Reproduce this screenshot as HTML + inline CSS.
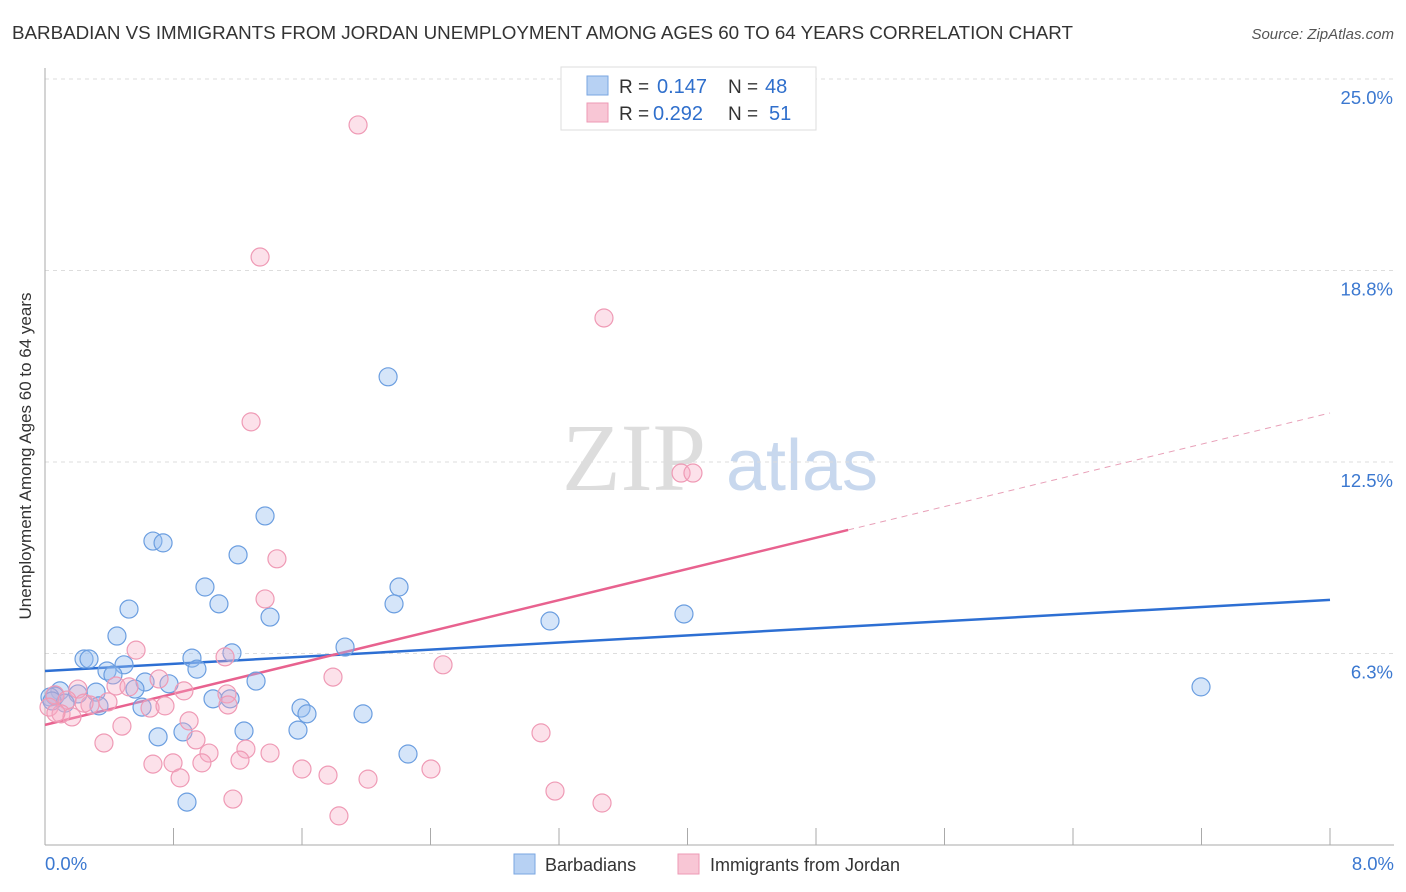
<!DOCTYPE html>
<html><head><meta charset="utf-8"><style>
body{margin:0;background:#fff;font-family:"Liberation Sans",sans-serif;}
svg{display:block}
</style></head><body>
<svg id="chart" width="1406" height="892" xmlns="http://www.w3.org/2000/svg">
<text x="12" y="39" font-size="18.8" fill="#333" textLength="1061">BARBADIAN VS IMMIGRANTS FROM JORDAN UNEMPLOYMENT AMONG AGES 60 TO 64 YEARS CORRELATION CHART</text>
<text x="1394" y="39" font-size="15" fill="#555" font-style="italic" text-anchor="end">Source: ZipAtlas.com</text>
<text x="31" y="456" font-size="17" fill="#333" text-anchor="middle" transform="rotate(-90 31 456)">Unemployment Among Ages 60 to 64 years</text>
<g><text x="634" y="490" font-size="96" font-family="Liberation Serif,serif" fill="#ddd" text-anchor="middle">ZIP</text><text x="802" y="490" font-size="72" fill="#c8d8ee" text-anchor="middle">atlas</text></g>
<g id="grid"></g><g id="axes"></g><g id="trends"></g><g id="pts"></g>
<g>
<rect x="561" y="67" width="255" height="63" fill="#fff" stroke="#ddd"/>
<rect x="587" y="76" width="21" height="19" fill="#b7d1f3" stroke="#7aa6e2"/>
<rect x="587" y="103" width="21" height="19" fill="#f8c6d5" stroke="#ee9ab5"/>
<text x="619" y="93" font-size="19" fill="#333">R =</text>
<text x="657" y="93" font-size="20" fill="#2f6fcc">0.147</text>
<text x="728" y="93" font-size="19" fill="#333">N =</text>
<text x="765" y="93" font-size="20" fill="#2f6fcc">48</text>
<text x="619" y="120" font-size="19" fill="#333">R =</text>
<text x="653" y="120" font-size="20" fill="#2f6fcc">0.292</text>
<text x="728" y="120" font-size="19" fill="#333">N =</text>
<text x="769" y="120" font-size="20" fill="#2f6fcc">51</text>
</g>
<g>
<rect x="514" y="854" width="21" height="20" fill="#b7d1f3" stroke="#7aa6e2"/>
<text x="545" y="871" font-size="18" fill="#333">Barbadians</text>
<rect x="678" y="854" width="21" height="20" fill="#f8c6d5" stroke="#ee9ab5"/>
<text x="710" y="871" font-size="18" fill="#333">Immigrants from Jordan</text>
</g>
</svg>
<script>
const xTicks=[0,0.8,1.6,2.4,3.2,4.0,4.8,5.6,6.4,7.2,8.0];
const yTicks=[6.25,12.5,18.75,25];
const yTickLabels=["6.3%","12.5%","18.8%","25.0%"];
const xTickLabels=["0.0%","8.0%"];
const blueX=[2.136,1.370,.672,.735,1.202,.996,2.204,1.083,2.173,.523,1.401,3.978,3.144,.448,1.868,1.164,.243,.274,.915,.492,.386,.423,.946,.623,.772,1.314,.560,.318,.093,.205,.062,.031,1.046,1.152,7.197,.125,.336,.604,1.594,1.631,1.980,.704,.859,1.239,1.575,2.260,.884,.044];
const blueY=[15.28,10.74,9.92,9.86,9.47,8.42,8.42,7.87,7.87,7.70,7.44,7.54,7.31,6.82,6.46,6.27,6.07,6.07,6.10,5.88,5.68,5.55,5.74,5.32,5.26,5.35,5.09,4.99,5.03,4.93,4.86,4.83,4.77,4.77,5.16,4.63,4.54,4.50,4.47,4.28,4.28,3.53,3.69,3.72,3.75,2.97,1.40,4.70];
const pinkX=[1.949,1.339,3.480,1.283,3.960,4.034,1.444,1.370,.567,1.121,2.478,1.793,.710,.865,.442,.523,.205,.392,.062,.137,.280,.025,.100,.168,.654,.747,1.133,1.139,.897,.479,.367,.940,1.021,1.251,1.401,1.214,.672,.797,.977,1.600,2.403,1.762,.841,2.011,3.088,3.175,1.170,3.468,1.830,.068,.243];
const pinkY=[23.50,19.19,17.20,13.81,12.14,12.14,9.34,8.03,6.36,6.14,5.88,5.48,5.42,5.03,5.19,5.16,5.09,4.67,4.90,4.73,4.57,4.50,4.28,4.18,4.47,4.54,4.93,4.57,4.05,3.88,3.33,3.43,3.00,3.13,3.00,2.77,2.64,2.68,2.68,2.48,2.48,2.28,2.19,2.15,3.66,1.76,1.50,1.37,0.95,4.31,4.63];
const blueTrend=[5.68,8.00];
const pinkTrend=[3.92,14.10];
const pinkSolidEnd=5.0;
const NS="http://www.w3.org/2000/svg";
const sx=v=>45+v/8*1285;
const sy=v=>845-v*30.64;
function mk(tag,attrs,parent){const e=document.createElementNS(NS,tag);for(const k in attrs)e.setAttribute(k,attrs[k]);document.getElementById(parent).appendChild(e);return e;}
yTicks.forEach((t,i)=>{
 const l=mk('line',{x1:45,x2:1394,y1:sy(t),y2:sy(t),stroke:'#ddd','stroke-dasharray':'4,4'},'grid');
 
 
 const tx=mk('text',{x:1393,y:sy(t)+25,'font-size':18.5,fill:'#3b78d0','text-anchor':'end'},'grid');
 tx.textContent=yTickLabels[i];
 
 
});
const ax=mk('line',{x1:45,x2:45,y1:68,y2:845,stroke:'#aaa'},'axes');


const bx=mk('line',{x1:45,x2:1394,y1:845,y2:845,stroke:'#aaa'},'axes');


xTicks.forEach(t=>{
 const l=mk('line',{x1:sx(t),x2:sx(t),y1:828,y2:845,stroke:'#aaa'},'axes');
 
 
});
[[0,'start',45],[8,'end',1394]].forEach((d,i)=>{
 const t=mk('text',{x:d[2],y:870,'font-size':18.5,fill:'#3b78d0','text-anchor':d[1]},'axes');
 t.textContent=xTickLabels[i];
 
 
});
function drawPts(X,Y,fill,stroke,name){
 X.forEach((x,i)=>{
  const c=mk('circle',{cx:sx(x),cy:sy(Y[i]),r:9,fill:fill,stroke:stroke,'stroke-width':1.2},'pts');
  
  
 });
}
drawPts(blueX,blueY,'rgba(150,190,240,0.4)','#6b9ee0','barbadian-point');
drawPts(pinkX,pinkY,'rgba(245,170,195,0.35)','#ef9ab5','jordan-point');
const pAt=x=>pinkTrend[0]+(pinkTrend[1]-pinkTrend[0])*x/8;
const b=mk('line',{x1:sx(0),y1:sy(blueTrend[0]),x2:sx(8),y2:sy(blueTrend[1]),stroke:'#2d6fd3','stroke-width':2.5},'trends');


const p=mk('line',{x1:sx(0),y1:sy(pAt(0)),x2:sx(pinkSolidEnd),y2:sy(pAt(pinkSolidEnd)),stroke:'#e8628f','stroke-width':2.5},'trends');


const pd=mk('line',{x1:sx(pinkSolidEnd),y1:sy(pAt(pinkSolidEnd)),x2:sx(8),y2:sy(pAt(8)),stroke:'#e8a0b8','stroke-width':1,'stroke-dasharray':'6,5'},'trends');


</script>
</body></html>
